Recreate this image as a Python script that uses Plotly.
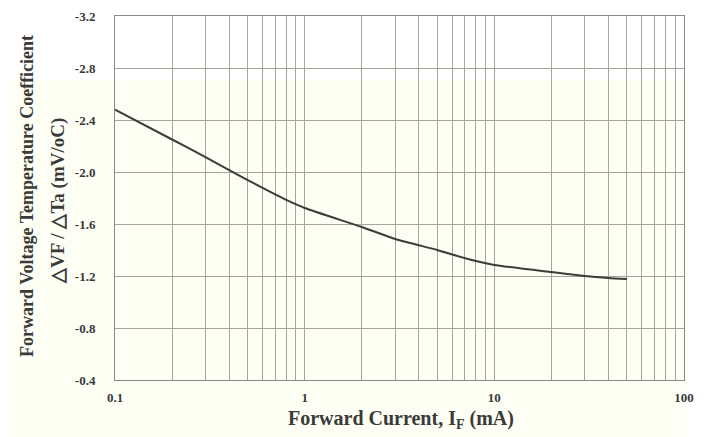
import plotly.graph_objects as go

# Data
current_ma = [0.1, 0.2, 0.3, 0.4, 0.6, 0.8, 1, 2, 3, 5, 6, 8, 10, 20, 30, 40, 50]
coef_mv = [-2.48, -2.25, -2.115, -2.015, -1.877, -1.785, -1.723, -1.577, -1.485,
           -1.40, -1.365, -1.315, -1.285, -1.23, -1.20, -1.185, -1.177]

x_ticks = [0.1, 1, 10, 100]
x_tick_text = ["0.1", "1", "10", "100"]
x_minor = [m * d for d in (0.1, 1, 10) for m in range(2, 10)]
y_ticks = [-3.2, -2.8, -2.4, -2.0, -1.6, -1.2, -0.8, -0.4]
y_tick_text = ["-3.2", "-2.8", "-2.4", "-2.0", "-1.6", "-1.2", "-0.8", "-0.4"]

x_title = "<b>Forward Current, I<sub>F</sub> (mA)</b>"
y_title_1 = "<b>Forward Voltage Temperature Coefficient</b>"
y_title_2 = "<b>△VF / △Ta (mV/oC)</b>"

FONT = "Liberation Serif"
TXT = "#3a3a3a"
GRID = "#a4a69a"
BG = "#fdfff4"

# page has an 8px body margin; target plot area on screen: x 115..684, y 16..380
OFF = 8
W, H = 707, 437
PX0, PX1, PY0, PY1 = 115, 684, 16, 380
L, T = PX0 - OFF, PY0 - OFF
R, B = (W + OFF) - PX1, (H + OFF) - PY1
PW, PH = PX1 - PX0, PY1 - PY0


def px(x):
    return (x - PX0) / PW


def py(y):
    return (PY1 - y) / PH


fig = go.Figure()
fig.add_trace(go.Scatter(x=current_ma, y=coef_mv, mode="lines",
                         line=dict(color="#3a3d38", width=2, shape="spline", smoothing=0.6),
                         hoverinfo="skip", showlegend=False))

fig.update_layout(
    width=W, height=H,
    margin=dict(l=L, r=R, t=T, b=B),
    paper_bgcolor="white", plot_bgcolor="rgba(0,0,0,0)",
    font=dict(family=FONT, color=TXT),
    xaxis=dict(type="log", range=[-1, 2], tickvals=x_ticks, ticktext=x_tick_text,
               showgrid=True, gridcolor=GRID, gridwidth=1,
               minor=dict(tickvals=x_minor, showgrid=True, gridcolor=GRID, gridwidth=1, ticks=""),
               showline=True, linecolor="#8a8a8a", linewidth=1, mirror=True,
               ticks="", ticklabelstandoff=5, automargin=False,
               tickfont=dict(family=FONT, size=13, color=TXT, weight="bold"),
               zeroline=False),
    yaxis=dict(range=[-0.4, -3.2], tickvals=y_ticks, ticktext=y_tick_text,
               showgrid=True, gridcolor=GRID, gridwidth=1,
               showline=True, linecolor="#8a8a8a", linewidth=1, mirror=True,
               ticks="", ticklabelstandoff=16, automargin=False,
               tickfont=dict(family=FONT, size=13, color=TXT, weight="bold"),
               zeroline=False),
)

# axis titles as annotations (pixel-placed)
fig.add_annotation(text=x_title, xref="paper", yref="paper",
                   x=px(401), y=py(419),
                   showarrow=False, font=dict(family=FONT, size=20, color=TXT),
                   xanchor="center", yanchor="middle")
fig.add_annotation(text=y_title_1, xref="paper", yref="paper",
                   x=px(27), y=py(196), textangle=-90,
                   showarrow=False, font=dict(family=FONT, size=18, color=TXT),
                   xanchor="center", yanchor="middle")
fig.add_annotation(text=y_title_2, xref="paper", yref="paper",
                   x=px(58), y=py(201), textangle=-90,
                   showarrow=False, font=dict(family=FONT, size=19, color=TXT),
                   xanchor="center", yanchor="middle")

# ivory background of the lower part of the scanned image
fig.add_shape(type="rect", xref="paper", yref="paper",
              x0=px(-10), x1=px(687), y0=py(450), y1=py(80),
              fillcolor=BG, line=dict(width=0), layer="below")

fig.write_html("out.html")
